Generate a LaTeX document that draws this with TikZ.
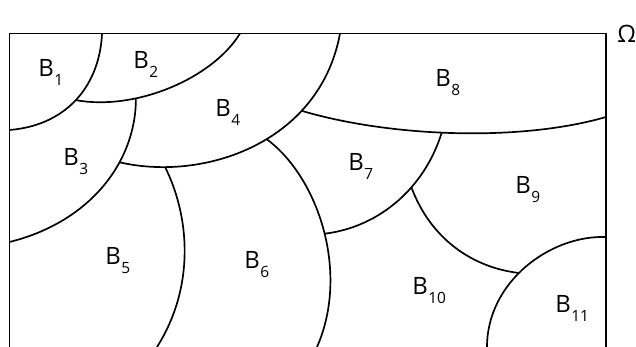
\documentclass[tikz,border=0pt]{standalone}
\usepackage{fontspec}
\setmainfont{Open Sans}
\newcommand{\reg}[1]{B\kern0.4pt\raisebox{-0.7ex}{\fontsize{11}{11}\selectfont#1}}
\begin{document}
\begin{tikzpicture}[x=0.25mm, y=0.25mm, font=\fontsize{17}{20}\selectfont, bdry/.style={line width=1.2pt}, lbl/.style={anchor=base west, inner sep=0pt}]
        \useasboundingbox (0,0) rectangle (636,347);
        \draw[line width=1.4pt] (9.5,0) -- (9.5,313.5) -- (606,313.5) -- (606,0);
        \coordinate (t1) at (102,313.5);
        \coordinate (t2) at (240,313.5);
        \coordinate (t3) at (340,313.5);
        \coordinate (l1) at (9.5,217);
        \coordinate (l2) at (9.5,105);
        \coordinate (r1) at (606,230);
        \coordinate (r2) at (606,110);
        \coordinate (bot1) at (157,0);
        \coordinate (bot2) at (317,0);
        \coordinate (bot3) at (487,0);
        \draw[bdry] (t1) .. controls (100,265) and (70,222) .. (l1) coordinate[pos=0.52] (j123);
        \draw[bdry] (j123) .. controls (135,236) and (212,268) .. (t2) coordinate[pos=0.32] (j234);
        \draw[bdry] (j234) .. controls (136,185) and (90,125) .. (l2) coordinate[pos=0.35] (j345);
        \draw[bdry] (t3) .. controls (320,205) and (205,165) .. (j345)
          coordinate[pos=0.29] (j478) coordinate[pos=0.45] (j467) coordinate[pos=0.83] (j456);
        \draw[bdry] (j456) .. controls (190,130) and (195,60) .. (bot1);
        \draw[bdry] (j467) .. controls (318,170) and (350,75) .. (bot2) coordinate[pos=0.52] (j6710);
        \draw[bdry] (j478) .. controls (390,210) and (520,205) .. (r1) coordinate[pos=0.46] (j789);
        \draw[bdry] (j789) .. controls (425,160) and (380,120) .. (j6710) coordinate[pos=0.38] (j7910);
        \draw[bdry] (r2) .. controls (550,112) and (487,65) .. (bot3) coordinate[pos=0.55] (j91011);
        \draw[bdry] (j7910) .. controls (430,110) and (470,80) .. (j91011);
        \foreach \i/\x/\y in {1/38/270, 2/133/278, 3/63/181, 4/215/230, 5/105/82, 6/244/78, 7/348/176, 8/435/260, 9/515/153, 10/412/52, 11/555/34}
          {\node[lbl] (B\i) at (\x,\y) {\reg{\i}};}
        \node[lbl] (omega) at (617,304) {Ω};
      \end{tikzpicture}
\end{document}
